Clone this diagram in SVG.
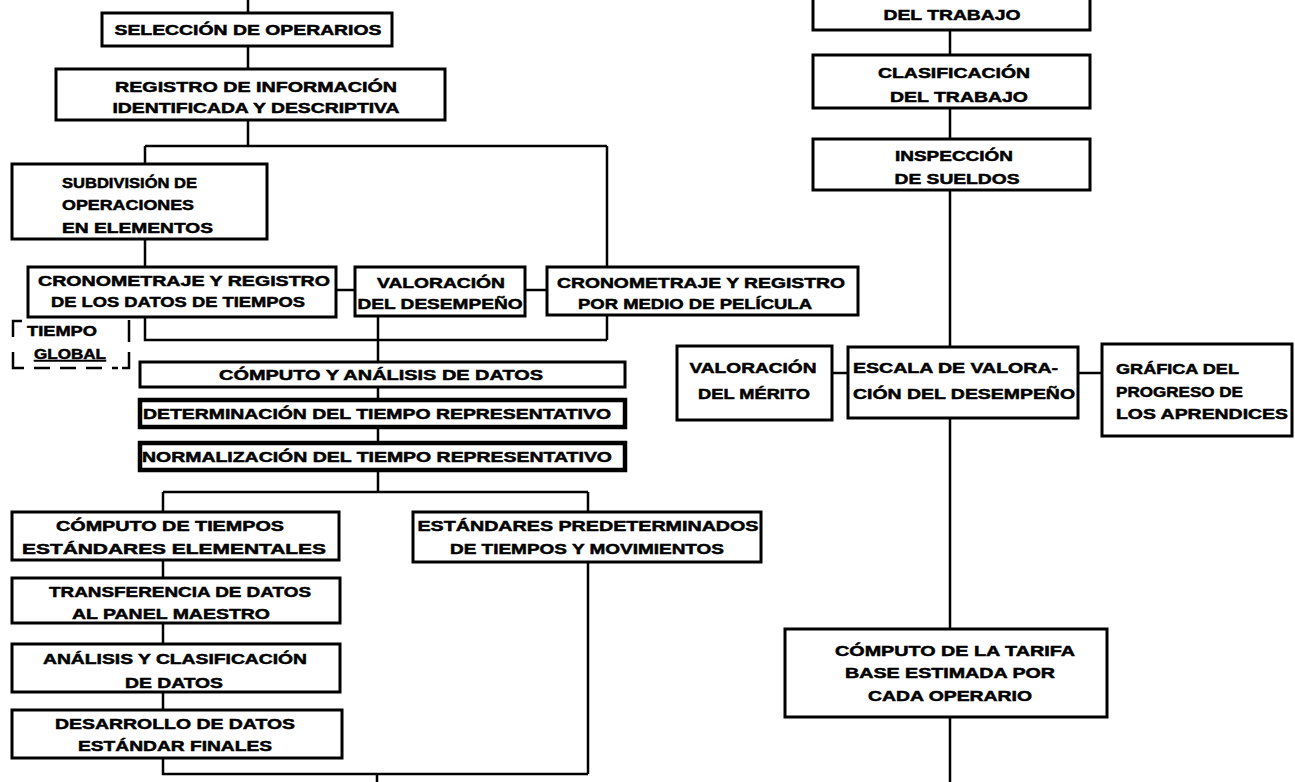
<svg xmlns="http://www.w3.org/2000/svg" width="1295" height="782" viewBox="0 0 1295 782">
<style>
.b{fill:#fff;stroke:#000;stroke-width:3}
.h{fill:#fff;stroke:#000;stroke-width:4.5}
.c{fill:none;stroke:#000;stroke-width:2.5}
.d{fill:none;stroke:#000;stroke-width:2.5}
text{font-family:"Liberation Sans",Arial,sans-serif;font-weight:bold;font-size:15px;fill:#000;stroke:#000;stroke-width:0.5}
</style>
<rect width="1295" height="782" fill="#fff"/>
<g id="connectors">
<path class="c" d="M248,0 V13 M248,46 V69 M248,120 V146 M145,146 H607 M145,146 V164 M607,146 V267 M145,239 V267 M336,290 H355 M525,290 H547 M145,317 V340 H607 M607,315 V340 M378,316 V362 M378,387 V400 M378,427 V443 M378,470 V492 M163,492 H588 M163,492 V512 M588,492 V512 M163,560 V578 M163,623 V644 M163,692 V710 M163,758 V774 H588 M588,562 V774 M377,774 V782"/>
<path class="c" d="M950,30 V55 M950,108 V139 M950,190 V347 M832,373 H848 M1078,373 H1102 M950,418 V629 M950,717 V782"/>
</g>
<g id="seleccion"><rect class="b" x="102" y="13" width="290" height="33"/><text x="248" y="35" text-anchor="middle" textLength="267" lengthAdjust="spacingAndGlyphs">SELECCIÓN DE OPERARIOS</text></g>
<g id="registro"><rect class="b" x="56" y="69" width="389" height="51"/><text x="256" y="92" text-anchor="middle" textLength="282" lengthAdjust="spacingAndGlyphs">REGISTRO DE INFORMACIÓN</text><text x="256" y="113" text-anchor="middle" textLength="287" lengthAdjust="spacingAndGlyphs">IDENTIFICADA Y DESCRIPTIVA</text></g>
<g id="subdivision"><rect class="b" x="12" y="164" width="255" height="75"/><text x="62" y="188" textLength="135" lengthAdjust="spacingAndGlyphs">SUBDIVISIÓN DE</text><text x="62" y="210" textLength="132" lengthAdjust="spacingAndGlyphs">OPERACIONES</text><text x="62" y="233" textLength="151" lengthAdjust="spacingAndGlyphs">EN ELEMENTOS</text></g>
<g id="crono1"><rect class="b" x="28" y="267" width="308" height="50"/><text x="184" y="286" text-anchor="middle" textLength="292" lengthAdjust="spacingAndGlyphs">CRONOMETRAJE Y REGISTRO</text><text x="178" y="307" text-anchor="middle" textLength="254" lengthAdjust="spacingAndGlyphs">DE LOS DATOS DE TIEMPOS</text></g>
<g id="valoracion-desempeno"><rect class="b" x="355" y="267" width="170" height="49"/><text x="441" y="288" text-anchor="middle" textLength="128" lengthAdjust="spacingAndGlyphs">VALORACIÓN</text><text x="440" y="309" text-anchor="middle" textLength="165" lengthAdjust="spacingAndGlyphs">DEL DESEMPEÑO</text></g>
<g id="crono2"><rect class="b" x="547" y="267" width="311" height="48"/><text x="701" y="288" text-anchor="middle" textLength="288" lengthAdjust="spacingAndGlyphs">CRONOMETRAJE Y REGISTRO</text><text x="695" y="309" text-anchor="middle" textLength="234" lengthAdjust="spacingAndGlyphs">POR MEDIO DE PELÍCULA</text></g>
<g id="tiempo-global"><path class="d" d="M22,321 H13 V337 M13,352 V368 H24 M34,368 H50 M60,368 H76 M86,368 H102 M112,368 H118 M129,320 V342 M129,352 V368 H122"/><text x="62" y="336" text-anchor="middle" textLength="70" lengthAdjust="spacingAndGlyphs">TIEMPO</text><text x="70" y="359" text-anchor="middle" textLength="72" lengthAdjust="spacingAndGlyphs" text-decoration="underline">GLOBAL</text></g>
<g id="computo-analisis"><rect class="b" x="140" y="362" width="485" height="25"/><text x="381" y="380" text-anchor="middle" textLength="324" lengthAdjust="spacingAndGlyphs">CÓMPUTO Y ANÁLISIS DE DATOS</text></g>
<g id="determinacion"><rect class="h" x="140" y="400" width="485" height="27"/><text x="377" y="419" text-anchor="middle" textLength="468" lengthAdjust="spacingAndGlyphs">DETERMINACIÓN DEL TIEMPO REPRESENTATIVO</text></g>
<g id="normalizacion"><rect class="h" x="140" y="443" width="485" height="27"/><text x="377" y="462" text-anchor="middle" textLength="470" lengthAdjust="spacingAndGlyphs">NORMALIZACIÓN DEL TIEMPO REPRESENTATIVO</text></g>
<g id="computo-tiempos"><rect class="b" x="12" y="512" width="327" height="48"/><text x="170" y="531" text-anchor="middle" textLength="228" lengthAdjust="spacingAndGlyphs">CÓMPUTO DE TIEMPOS</text><text x="174" y="554" text-anchor="middle" textLength="304" lengthAdjust="spacingAndGlyphs">ESTÁNDARES ELEMENTALES</text></g>
<g id="estandares"><rect class="b" x="413" y="512" width="348" height="50"/><text x="588" y="531" text-anchor="middle" textLength="341" lengthAdjust="spacingAndGlyphs">ESTÁNDARES PREDETERMINADOS</text><text x="587" y="554" text-anchor="middle" textLength="274" lengthAdjust="spacingAndGlyphs">DE TIEMPOS Y MOVIMIENTOS</text></g>
<g id="transferencia"><rect class="b" x="12" y="578" width="328" height="45"/><text x="180" y="597" text-anchor="middle" textLength="262" lengthAdjust="spacingAndGlyphs">TRANSFERENCIA DE DATOS</text><text x="171" y="619" text-anchor="middle" textLength="198" lengthAdjust="spacingAndGlyphs">AL PANEL MAESTRO</text></g>
<g id="analisis-clasificacion"><rect class="b" x="12" y="644" width="328" height="48"/><text x="175" y="664" text-anchor="middle" textLength="264" lengthAdjust="spacingAndGlyphs">ANÁLISIS Y CLASIFICACIÓN</text><text x="174" y="688" text-anchor="middle" textLength="98" lengthAdjust="spacingAndGlyphs">DE DATOS</text></g>
<g id="desarrollo"><rect class="b" x="12" y="710" width="330" height="48"/><text x="175" y="729" text-anchor="middle" textLength="240" lengthAdjust="spacingAndGlyphs">DESARROLLO DE DATOS</text><text x="175" y="751" text-anchor="middle" textLength="194" lengthAdjust="spacingAndGlyphs">ESTÁNDAR FINALES</text></g>
<g id="descripcion-trabajo"><rect class="b" x="813" y="-20" width="277" height="50"/><text x="952" y="20" text-anchor="middle" textLength="137" lengthAdjust="spacingAndGlyphs">DEL TRABAJO</text></g>
<g id="clasificacion-trabajo"><rect class="b" x="813" y="55" width="277" height="53"/><text x="954" y="78" text-anchor="middle" textLength="152" lengthAdjust="spacingAndGlyphs">CLASIFICACIÓN</text><text x="959" y="102" text-anchor="middle" textLength="138" lengthAdjust="spacingAndGlyphs">DEL TRABAJO</text></g>
<g id="inspeccion"><rect class="b" x="813" y="139" width="277" height="51"/><text x="954" y="161" text-anchor="middle" textLength="118" lengthAdjust="spacingAndGlyphs">INSPECCIÓN</text><text x="957" y="184" text-anchor="middle" textLength="125" lengthAdjust="spacingAndGlyphs">DE SUELDOS</text></g>
<g id="valoracion-merito"><rect class="b" x="677" y="346" width="155" height="74"/><text x="753" y="373" text-anchor="middle" textLength="127" lengthAdjust="spacingAndGlyphs">VALORACIÓN</text><text x="754" y="399" text-anchor="middle" textLength="112" lengthAdjust="spacingAndGlyphs">DEL MÉRITO</text></g>
<g id="escala"><rect class="b" x="848" y="347" width="230" height="71"/><text x="853" y="373" textLength="205" lengthAdjust="spacingAndGlyphs">ESCALA DE VALORA-</text><text x="853" y="399" textLength="222" lengthAdjust="spacingAndGlyphs">CIÓN DEL DESEMPEÑO</text></g>
<g id="grafica"><rect class="b" x="1102" y="344" width="190" height="92"/><text x="1116" y="374" textLength="123" lengthAdjust="spacingAndGlyphs">GRÁFICA DEL</text><text x="1116" y="397" textLength="127" lengthAdjust="spacingAndGlyphs">PROGRESO DE</text><text x="1116" y="419" textLength="172" lengthAdjust="spacingAndGlyphs">LOS APRENDICES</text></g>
<g id="computo-tarifa"><rect class="b" x="785" y="629" width="322" height="88"/><text x="955" y="656" text-anchor="middle" textLength="240" lengthAdjust="spacingAndGlyphs">CÓMPUTO DE LA TARIFA</text><text x="950" y="678" text-anchor="middle" textLength="210" lengthAdjust="spacingAndGlyphs">BASE ESTIMADA POR</text><text x="950" y="701" text-anchor="middle" textLength="164" lengthAdjust="spacingAndGlyphs">CADA OPERARIO</text></g>
</svg>
